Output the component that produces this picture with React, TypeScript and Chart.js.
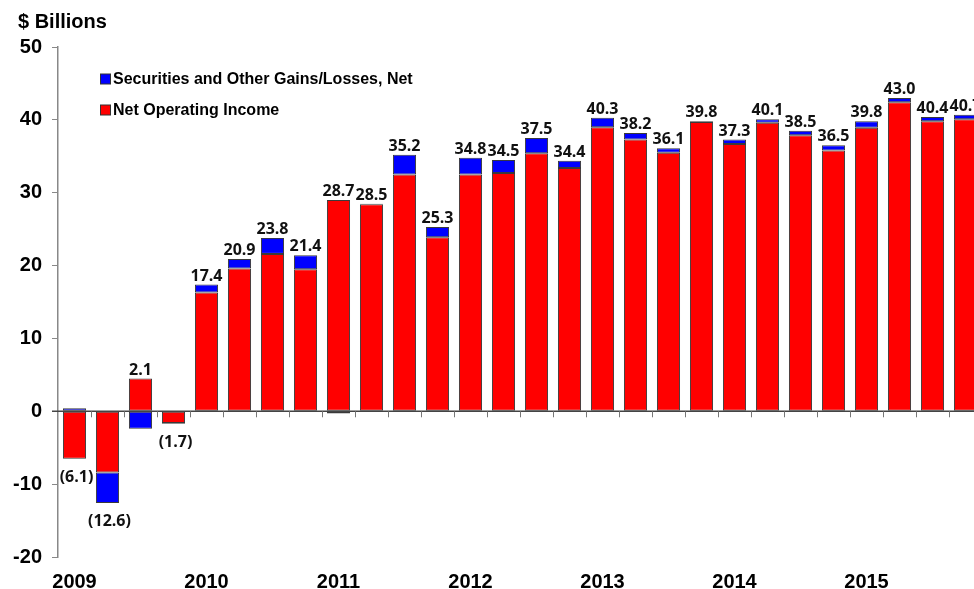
import React, { useEffect, useRef } from "react";
import { Chart, registerables } from "chart.js";

Chart.register(...registerables);

const quarters = [
  "2009 Q1", "2009 Q2", "2009 Q3", "2009 Q4",
  "2010 Q1", "2010 Q2", "2010 Q3", "2010 Q4",
  "2011 Q1", "2011 Q2", "2011 Q3", "2011 Q4",
  "2012 Q1", "2012 Q2", "2012 Q3", "2012 Q4",
  "2013 Q1", "2013 Q2", "2013 Q3", "2013 Q4",
  "2014 Q1", "2014 Q2", "2014 Q3", "2014 Q4",
  "2015 Q1", "2015 Q2", "2015 Q3", "2015 Q4",
];

const yearLabels = ["2009", "2010", "2011", "2012", "2013", "2014", "2015"];

const netOperatingIncome = [
  -6.5, -8.4, 4.5, -1.6,
  16.3, 19.6, 21.6, 19.5,
  29.0, 28.4, 32.5, 23.9,
  32.5, 32.7, 35.4, 33.4,
  39.0, 37.3, 35.5, 39.7,
  36.7, 39.6, 37.9, 35.8,
  38.9, 42.4, 39.8, 40.1,
];

const securitiesGains = [
  0.4, -4.2, -2.4, -0.1,
  1.1, 1.3, 2.2, 1.9,
  -0.3, 0.1, 2.7, 1.4,
  2.3, 1.8, 2.1, 1.0,
  1.3, 0.9, 0.6, 0.1,
  0.6, 0.5, 0.6, 0.7,
  0.9, 0.6, 0.6, 0.6,
];

const yMin = -20;
const yMax = 50;
const yStep = 10;

const seriesNames = ["Securities and Other Gains/Losses, Net", "Net Operating Income"];
const unitTitle = "$ Billions";

const RED = "#ff0000";
const BLUE = "#0000ff";
const ARIAL = "'Liberation Sans', Arial, Helvetica, sans-serif";
const LABEL_FONT = "'Open Sans', 'Noto Sans', sans-serif";

export default function App() {
  const ref = useRef<HTMLCanvasElement>(null);

  useEffect(() => {
    const overlay = {
      id: "overlay",
      afterDatasetsDraw(chart: any) {
        const ctx = chart.ctx as CanvasRenderingContext2D;
        const x = chart.scales.x;
        const y = chart.scales.y;
        const area = chart.chartArea;
        const y0 = y.getPixelForValue(0);
        ctx.save();

        // zero line
        ctx.strokeStyle = "#444";
        ctx.lineWidth = 1.5;
        ctx.beginPath();
        ctx.moveTo(area.left - 6, y0);
        ctx.lineTo(area.right + 40, y0);
        ctx.stroke();

        // category tick marks
        ctx.strokeStyle = "#777";
        ctx.lineWidth = 1;
        for (let i = 0; i < quarters.length; i++) {
          const xa = x.getPixelForValue(i);
          const xb = i + 1 < quarters.length ? x.getPixelForValue(i + 1) : xa + (xa - x.getPixelForValue(i - 1));
          const xm = Math.round((xa + xb) / 2) + 0.5;
          ctx.beginPath();
          ctx.moveTo(xm, y0);
          ctx.lineTo(xm, y0 + 6);
          ctx.stroke();
        }

        // data labels (totals)
        ctx.fillStyle = "#111";
        ctx.font = `bold 16px ${LABEL_FONT}`;
        ctx.textAlign = "center";
        ctx.textBaseline = "alphabetic";
        for (let i = 0; i < quarters.length; i++) {
          const a = netOperatingIncome[i];
          const b = securitiesGains[i];
          const pos = Math.max(a, 0) + Math.max(b, 0);
          const neg = Math.min(a, 0) + Math.min(b, 0);
          const total = a + b;
          const cx = x.getPixelForValue(i);
          if (total >= 0) {
            ctx.fillText(total.toFixed(1), cx, y.getPixelForValue(pos) - 4);
          } else {
            ctx.fillText(`(${Math.abs(total).toFixed(1)})`, cx + 2, y.getPixelForValue(neg) + 23);
          }
        }

        // year labels
        ctx.fillStyle = "#000";
        ctx.font = `bold 20px ${ARIAL}`;
        ctx.textBaseline = "alphabetic";
        yearLabels.forEach((yl, k) => {
          ctx.fillText(yl, x.getPixelForValue(k * 4), area.bottom + 31);
        });

        // unit title
        ctx.textAlign = "left";
        ctx.font = `bold 20px ${ARIAL}`;
        ctx.fillText(unitTitle, 18, 28);

        // legend
        const colors = [BLUE, RED];
        const rowsY = [79, 110];
        ctx.font = `bold 16px ${ARIAL}`;
        ctx.textBaseline = "middle";
        seriesNames.forEach((name, k) => {
          ctx.fillStyle = colors[k];
          ctx.fillRect(100.5, rowsY[k] - 5, 10, 10);
          ctx.strokeStyle = "#333";
          ctx.lineWidth = 1;
          ctx.strokeRect(100.5, rowsY[k] - 5, 10, 10);
          ctx.fillStyle = "#000";
          ctx.fillText(name, 113, rowsY[k] + 1);
        });

        ctx.restore();
      },
    };

    const chart = new Chart(ref.current!, {
      type: "bar",
      data: {
        labels: quarters,
        datasets: [
          {
            label: seriesNames[1],
            data: netOperatingIncome,
            backgroundColor: RED,
            borderColor: "#3a3a3a",
            borderWidth: 1,
            borderSkipped: false,
            categoryPercentage: 1,
            barPercentage: 0.7,
          },
          {
            label: seriesNames[0],
            data: securitiesGains,
            backgroundColor: BLUE,
            borderColor: "#3a3a3a",
            borderWidth: 1,
            borderSkipped: false,
            categoryPercentage: 1,
            barPercentage: 0.7,
          },
        ],
      },
      options: {
        animation: false,
        responsive: true,
        maintainAspectRatio: false,
        events: [],
        layout: { padding: { left: 0, top: 47, right: 18, bottom: 0 } },
        plugins: {
          legend: { display: false },
          tooltip: { enabled: false },
          title: { display: false },
        },
        scales: {
          x: {
            type: "category",
            stacked: true,
            offset: true,
            grid: { display: false },
            border: { display: false },
            ticks: { display: false },
            afterFit: (s: any) => {
              s.height = 32;
            },
          },
          y: {
            stacked: true,
            min: yMin,
            max: yMax,
            grid: {
              display: true,
              drawOnChartArea: false,
              drawTicks: true,
              tickLength: 6,
              color: "#888",
            },
            border: { display: true, color: "#888", width: 1.5 },
            ticks: {
              stepSize: yStep,
              color: "#000",
              padding: 10,
              font: { family: ARIAL, size: 20, weight: "bold" },
            },
            afterFit: (s: any) => {
              s.width = 58;
            },
          },
        },
      },
      plugins: [overlay],
    } as any);

    return () => chart.destroy();
  }, []);

  return (
    <div
      style={{
        position: "fixed",
        left: 0,
        top: 0,
        width: 974,
        height: 589,
        overflow: "hidden",
        background: "#fff",
      }}
    >
      <div style={{ position: "absolute", left: 0, top: 0, width: 1000, height: 589 }}>
        <canvas ref={ref} />
      </div>
    </div>
  );
}
